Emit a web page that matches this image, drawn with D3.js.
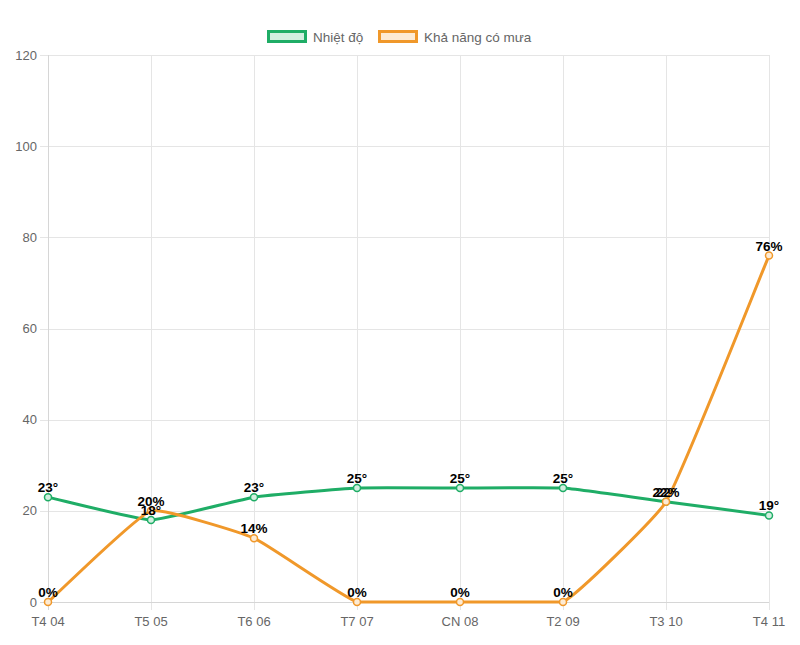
<!DOCTYPE html>
<html><head><meta charset="utf-8">
<script src="https://cdn.jsdelivr.net/npm/d3@7"></script>
<style>body{margin:0;background:#fff;font-family:"Liberation Sans",Arial,sans-serif;}</style>
</head><body><svg id="c" width="800" height="645"></svg>
<script>
const categories = ["T4 04","T5 05","T6 06","T7 07","CN 08","T2 09","T3 10","T4 11"];
const temperature = [23,18,23,25,25,25,22,19];
const rainChance = [0,20,14,0,0,0,22,76];
const yTicks = [0,20,40,60,80,100,120];
const seriesNames = ["Nhiệt độ","Khả năng có mưa"];

const green = "#1fad66", orange = "#f0982a";
const svg = d3.select("#c");
const L = 48, R = 769, T = 55, B = 602;
const x = d3.scalePoint().domain(categories).range([L, R]);
const y = d3.scaleLinear().domain([0,120]).range([B, T]);

// grid
const g = svg.append("g");
g.selectAll(".vg").data(categories).enter().append("line")
  .attr("x1", d=>Math.round(x(d))+0.5).attr("x2", d=>Math.round(x(d))+0.5).attr("y1", T).attr("y2", B+8)
  .attr("stroke", "#e5e5e5").attr("stroke-width",1);
g.selectAll(".hg").data(yTicks).enter().append("line")
  .attr("x1", L-8).attr("x2", R).attr("y1", d=>Math.round(y(d))+0.5).attr("y2", d=>Math.round(y(d))+0.5)
  .attr("stroke", "#e5e5e5").attr("stroke-width",1);
g.append("line").attr("x1",L+0.5).attr("x2",L+0.5).attr("y1",T).attr("y2",B+8).attr("stroke","#d6d6d6");
g.append("line").attr("x1",L-8).attr("x2",R).attr("y1",B+0.5).attr("y2",B+0.5).attr("stroke","#d6d6d6");

// tick labels
g.selectAll(".yl").data(yTicks).enter().append("text")
  .attr("x", L-11).attr("y", d=>y(d)+4.5).attr("text-anchor","end")
  .attr("font-size",13).attr("fill","#666").text(d=>d);
g.selectAll(".xl").data(categories).enter().append("text")
  .attr("x", d=>x(d)).attr("y", B+24).attr("text-anchor","middle")
  .attr("font-size",13).attr("fill","#666").text(d=>d);

// Chart.js-like spline with control points capped to the plot area
function splinePath(vals, t){
  const pts = vals.map((v,i)=>({x:x(categories[i]), y:y(v)}));
  const cps = pts.map((p,i)=>{
    const prev = pts[i-1]||p, next = pts[i+1]||p;
    const d01 = Math.hypot(p.x-prev.x,p.y-prev.y), d12 = Math.hypot(next.x-p.x,next.y-p.y);
    const s = d01+d12 || 1;
    const fa = t*d01/s, fb = t*d12/s;
    const cap = (q)=>({x:Math.max(L,Math.min(R,q.x)), y:Math.max(T,Math.min(B,q.y))});
    return {
      a: cap({x:p.x-fa*(next.x-prev.x), y:p.y-fa*(next.y-prev.y)}),
      b: cap({x:p.x+fb*(next.x-prev.x), y:p.y+fb*(next.y-prev.y)})
    };
  });
  const path = d3.path();
  path.moveTo(pts[0].x, pts[0].y);
  for(let i=1;i<pts.length;i++){
    path.bezierCurveTo(cps[i-1].b.x, cps[i-1].b.y, cps[i].a.x, cps[i].a.y, pts[i].x, pts[i].y);
  }
  return path.toString();
}

function drawSeries(vals, color, fill){
  svg.append("path").attr("d", splinePath(vals, 0.12)).attr("fill","none")
    .attr("stroke", color).attr("stroke-width",3).attr("stroke-linejoin","round");
  svg.append("g").selectAll("circle").data(vals).enter().append("circle")
    .attr("cx",(d,i)=>x(categories[i])).attr("cy",d=>y(d)).attr("r",3.5)
    .attr("fill",fill).attr("stroke",color).attr("stroke-width",1.5);
}
drawSeries(temperature, green, "#d2efe0");
drawSeries(rainChance, orange, "#fdebd4");

function drawLabels(vals, suffix){
  svg.append("g").selectAll("text").data(vals).enter().append("text")
    .attr("x",(d,i)=>x(categories[i])).attr("y",d=>y(d)-5)
    .attr("text-anchor","middle").attr("font-size",13.5).attr("font-weight","bold")
    .attr("fill","#000").text(d=>d+suffix);
}
drawLabels(temperature, "°");
drawLabels(rainChance, "%");

// legend
const leg = svg.append("g");
const items = [{n:seriesNames[0], c:green, f:"#d2efe0", x:267},{n:seriesNames[1], c:orange, f:"#fdebd4", x:378}];
items.forEach(it=>{
  leg.append("rect").attr("x",it.x+1.5).attr("y",31.5).attr("width",37).attr("height",10)
    .attr("fill",it.f).attr("stroke",it.c).attr("stroke-width",3);
  leg.append("text").attr("x",it.x+46).attr("y",41.5).attr("font-size",13.5).attr("fill","#666").text(it.n);
});
</script></body></html>
